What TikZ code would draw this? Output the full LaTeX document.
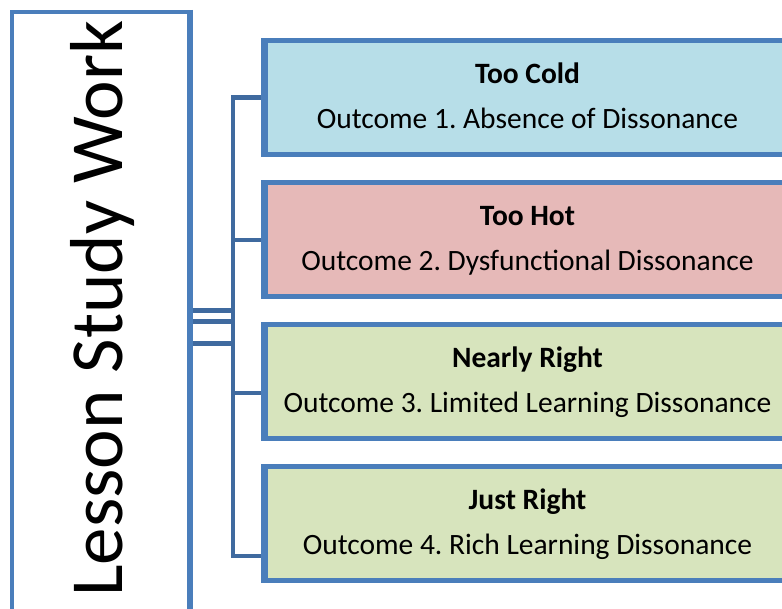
\documentclass[tikz,border=0pt]{standalone}
\usepackage{fontspec}
\setmainfont{Carlito}
\frenchspacing
\definecolor{bordblue}{HTML}{4A7EBB}
\definecolor{connblue}{HTML}{3F6A9F}
\definecolor{fillcold}{HTML}{B7DEE8}
\definecolor{fillhot}{HTML}{E6B9B8}
\definecolor{fillgreen}{HTML}{D7E4BD}
\tikzset{
  rootbox/.style={draw=bordblue, line width=4.3pt, fill=white, rectangle, minimum width=177pt, minimum height=599pt, inner sep=0pt},
  outbox/.style={draw=bordblue, line width=5pt, rectangle, minimum width=524pt, minimum height=114pt, inner sep=0pt},
  conn/.style={draw=connblue, line width=4.7pt},
  titletxt/.style={anchor=base, font=\fontsize{29.5}{34}\selectfont\bfseries, inner sep=0pt},
  subtxt/.style={anchor=base, font=\fontsize{29.5}{34}\selectfont, inner sep=0pt},
  roottxt/.style={anchor=base, rotate=90, font=\fontsize{75}{90}\selectfont, inner sep=0pt}
}
\begin{document}
\begin{tikzpicture}[x=1pt, y=-1pt]
\useasboundingbox (0,0) rectangle (782,608);
% root box
\node[rootbox] (root) at (100.5,311.5) {};
\node[roottxt] (roottext) at (122,308.5) {Lesson Study Work};
% outcome boxes
\node[outbox, fill=fillcold] (b1) at (527.5,97.5) {};
\node[outbox, fill=fillhot] (b2) at (527.5,239.5) {};
\node[outbox, fill=fillgreen] (b3) at (527.5,381.5) {};
\node[outbox, fill=fillgreen] (b4) at (527.5,523.5) {};
% texts
\node[titletxt] (t1) at ([yshift=14.5pt]b1.center) {Too Cold};
\node[subtxt] (s1) at ([yshift=-30.5pt]b1.center) {Outcome 1. Absence of Dissonance};
\node[titletxt] (t2) at ([yshift=14.5pt]b2.center) {Too Hot};
\node[subtxt] (s2) at ([yshift=-30.5pt]b2.center) {Outcome 2. Dysfunctional Dissonance};
\node[titletxt] (t3) at ([yshift=14.5pt]b3.center) {Nearly Right};
\node[subtxt] (s3) at ([yshift=-30.5pt]b3.center) {Outcome 3. Limited Learning Dissonance};
\node[titletxt] (t4) at ([yshift=14.5pt]b4.center) {Just Right};
\node[subtxt] (s4) at ([yshift=-30.5pt]b4.center) {Outcome 4. Rich Learning Dissonance};
% connector junctions
\coordinate (j1) at (233,97.5);
\coordinate (j2) at (233,240);
\coordinate (j3) at (233,393);
\coordinate (j4) at (233,556);
\coordinate (k1) at (233,310.5);
\coordinate (k2) at (233,321.5);
\coordinate (k3) at (233,343.5);
% connectors
\draw[conn] (j1 -| b1.west) -- (j1) -- (j4) -- (j4 -| b4.west);
\draw[conn] (j2) -- (j2 -| b2.west);
\draw[conn] (j3) -- (j3 -| b3.west);
\draw[conn] (k1 -| root.east) -- (k1);
\draw[conn] (k2 -| root.east) -- (k2);
\draw[conn] (k3 -| root.east) -- (k3);
% redraw borders over connector ends
\draw[draw=bordblue, line width=4.3pt] (root.north east) -- (root.south east);
\draw[draw=bordblue, line width=5pt] (b1.north west) -- (b1.south west);
\draw[draw=bordblue, line width=5pt] (b2.north west) -- (b2.south west);
\draw[draw=bordblue, line width=5pt] (b3.north west) -- (b3.south west);
\draw[draw=bordblue, line width=5pt] (b4.north west) -- (b4.south west);
\end{tikzpicture}
\end{document}
